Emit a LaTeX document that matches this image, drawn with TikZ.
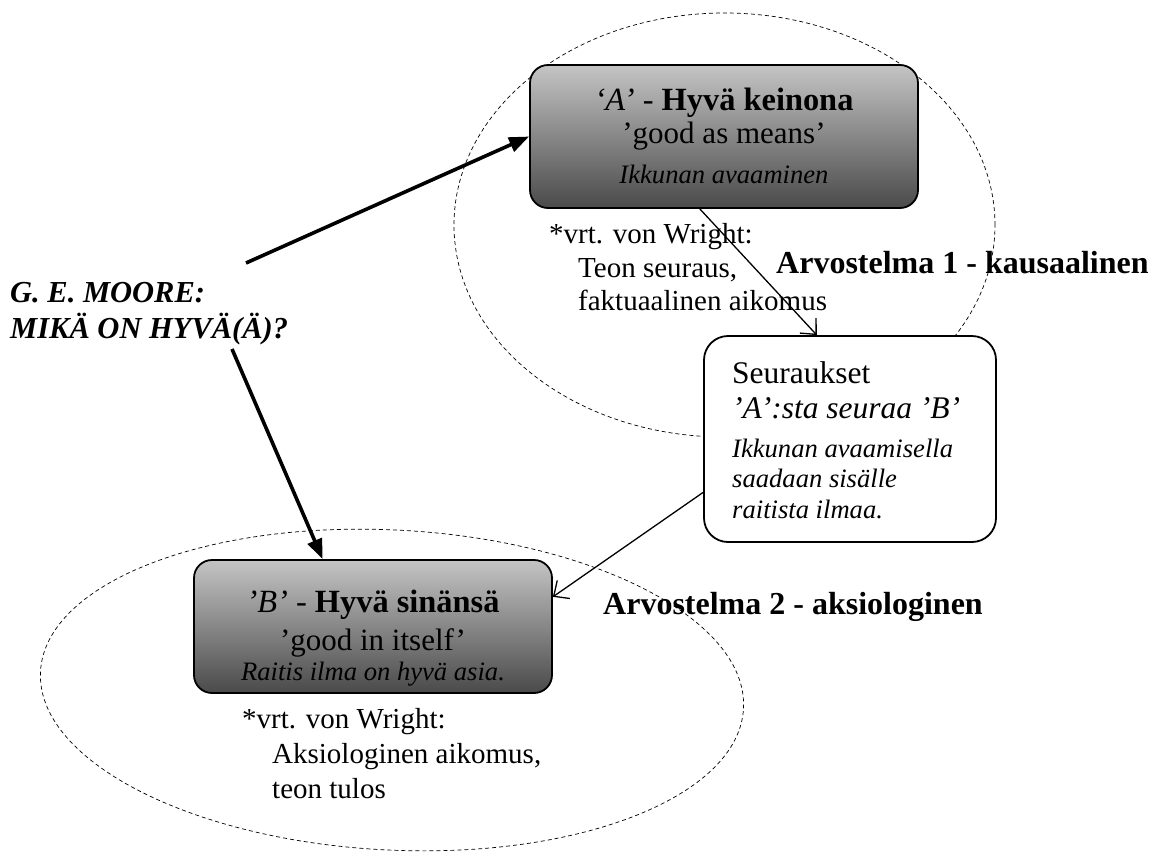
\documentclass[tikz,border=0pt]{standalone}
\usepackage{fontspec}
\setmainfont{Liberation Serif}
\usetikzlibrary{arrows.meta,calc}

\definecolor{shadetop}{RGB}{196,196,196}
\definecolor{shadebot}{RGB}{74,74,74}

\begin{document}
\begin{tikzpicture}[x=1pt,y=-1pt,
  gradbox/.style={draw=black, line width=1.8pt, top color=shadetop, bottom color=shadebot, inner sep=0pt},
  plainbox/.style={draw=black, line width=1.8pt, rounded corners=24pt, fill=white, inner sep=0pt},
  zone/.style={draw=black, line width=0.7pt, dash pattern=on 4pt off 3pt},
  bigarrow/.style={line width=3.6pt, -{Triangle[length=20pt,width=15pt]}},
  thinarrow/.style={line width=1.3pt, -{Straight Barb[length=12pt,width=22pt,line width=1.3pt]}},
  txt/.style={anchor=base west, inner sep=0pt, font=\fontsize{31.5}{35}\selectfont},
  ctxt/.style={anchor=base, inner sep=0pt, font=\fontsize{31}{35}\selectfont},
  note/.style={anchor=base west, inner sep=0pt, font=\fontsize{29}{34}\selectfont},
  ex/.style={font=\fontsize{26.6}{30}\selectfont\itshape},
  lbl/.style={anchor=base west, inner sep=0pt, font=\fontsize{32}{36}\selectfont\bfseries},
  moore/.style={anchor=base west, inner sep=0pt, font=\fontsize{30.5}{35}\selectfont\bfseries\itshape},
]
\useasboundingbox (0,0) rectangle (1151,852);

% dashed zones behind the boxes
\draw[zone] (724.5,225) ellipse [x radius=270.5pt, y radius=212pt];
\draw[zone, rotate around={-3:(392,690)}] (392,690) ellipse [x radius=352pt, y radius=160pt];

% boxes
\node[gradbox, rounded corners=18pt, minimum width=388pt, minimum height=143pt] (boxA) at (724,136.5) {};
\node[plainbox, minimum width=292pt, minimum height=206pt] (seur) at (850,439) {};
\node[gradbox, rounded corners=18pt, minimum width=358pt, minimum height=133pt] (boxB) at (373,626.5) {};

% box A text
\node[ctxt, font=\fontsize{32.4}{36}\selectfont] (a1) at (724,110) {\textit{‘A’} - \textbf{Hyvä keinona}};
\node[ctxt] (a2) at (724,143) {’good as means’};
\node[ctxt,ex] (a3) at (724,183) {Ikkunan avaaminen};

% consequences box text
\node[txt] (s1) at (732,383) {Seuraukset};
\node[txt,font=\fontsize{31.5}{35}\selectfont\itshape] (s2) at (732,418) {’A’:sta seuraa ’B’};
\node[txt,ex] (s3) at (732,457) {Ikkunan avaamisella};
\node[txt,ex] (s4) at (732,487) {saadaan sisälle};
\node[txt,ex] (s5) at (732,518) {raitista ilmaa.};

% box B text
\node[ctxt, font=\fontsize{32.4}{36}\selectfont] (b1) at (373,612) {\textit{’B’} - \textbf{Hyvä sinänsä}};
\node[ctxt] (b2) at (373,650) {’good in itself’};
\node[ctxt,ex] (b3) at (373,680) {Raitis ilma on hyvä asia.};

% side notes
\node[note] (v1) at (549,243) {*vrt. von Wright:};
\node[note] (v2) at (578,277) {Teon seuraus,};
\node[note] (v3) at (578,310) {faktuaalinen aikomus};
\node[note] (w1) at (242,728) {*vrt. von Wright:};
\node[note] (w2) at (272,763) {Aksiologinen aikomus,};
\node[note] (w3) at (272,798) {teon tulos};

% judgement labels
\node[lbl] (l1) at (776,273) {Arvostelma 1 - kausaalinen};
\node[lbl] (l2) at (603,614) {Arvostelma 2 - aksiologinen};

% question
\node[moore] (q1) at (10,302) {G. E. MOORE:};
\node[moore] (q2) at (10,338) {MIKÄ ON HYVÄ(Ä)?};

% connectors
\coordinate (m1) at (246,263);
\coordinate (m2) at (232,349);
\draw[bigarrow] (m1) -- (boxA.west);
\draw[bigarrow] (m2) -- ($(boxB.north west)!0.36!(boxB.north east)$);
\draw[thinarrow] ($(boxA.south west)!0.438!(boxA.south east)$) -- ($(seur.north west)!0.387!(seur.north east)$);
\draw[thinarrow] ($(seur.north west)!0.757!(seur.south west)$) -- ($(boxB.north east)!0.28!(boxB.south east)$);
\end{tikzpicture}
\end{document}
